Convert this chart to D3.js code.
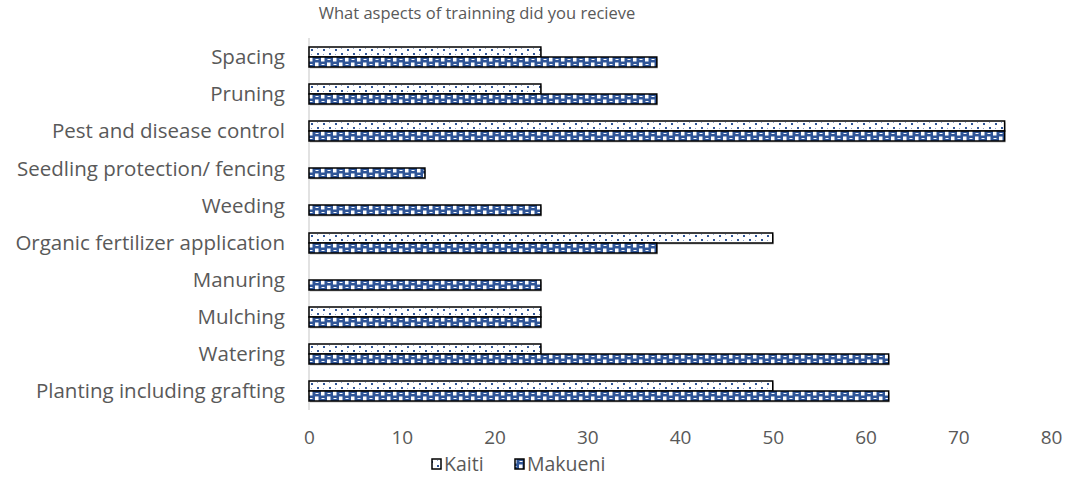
<!DOCTYPE html>
<html><head><meta charset="utf-8">
<script src="https://cdn.jsdelivr.net/npm/d3@7"></script>
<style>body{margin:0;background:#fff}svg{display:block}text{font-family:"Open Sans",sans-serif;fill:#595959}</style>
</head><body><svg id="c" width="1074" height="477"></svg>
<script>
const categories = ["Spacing","Pruning","Pest and disease control","Seedling protection/ fencing","Weeding","Organic fertilizer application","Manuring","Mulching","Watering","Planting including grafting"];
const kaiti   = [25, 25, 75, 0, 0, 50, 0, 25, 25, 50];
const makueni = [37.5, 37.5, 75, 12.5, 25, 37.5, 25, 25, 62.5, 62.5];
const seriesNames = ["Kaiti","Makueni"];
const xTicks = [0,10,20,30,40,50,60,70,80];

const svg = d3.select("#c");
const x = d3.scaleLinear().domain([0,80]).range([309,1051]);
const y = d3.scaleBand().domain(categories).range([38.4,409.6]);
const blue="#2F5597";
const defs = svg.append("defs");
function makePattern(id, s, oy){
  const p = defs.append("pattern").attr("id",id).attr("patternUnits","userSpaceOnUse")
    .attr("x",309).attr("y",oy).attr("width",12).attr("height",10);
  if(s===0){
    p.append("rect").attr("width",12).attr("height",10).attr("fill","#fff");
    p.append("rect").attr("x",2).attr("y",2).attr("width",2).attr("height",2).attr("fill",blue);
    p.append("rect").attr("x",8).attr("y",6).attr("width",2).attr("height",2).attr("fill",blue);
    p.append("rect").attr("x",8).attr("y",1).attr("width",1).attr("height",1).attr("fill","#8ea3c9");
    p.append("rect").attr("x",2).attr("y",7).attr("width",1).attr("height",1).attr("fill","#8ea3c9");
  } else {
    p.append("rect").attr("width",12).attr("height",10).attr("fill",blue);
    p.append("rect").attr("x",0).attr("y",0).attr("width",3.5).attr("height",4.5).attr("fill","#fff");
    p.append("rect").attr("x",6).attr("y",5.5).attr("width",3.5).attr("height",4.5).attr("fill","#fff");
    p.append("rect").attr("x",6.5).attr("y",2).attr("width",3).attr("height",1).attr("fill","#fff");
    p.append("rect").attr("x",0.5).attr("y",7).attr("width",3).attr("height",1).attr("fill","#fff");
  }
}

// title
svg.append("text").attr("x",477).attr("y",19).attr("text-anchor","middle").style("font-size","16.5px").text("What aspects of trainning did you recieve");

// axis line
svg.append("line").attr("x1",x(0)).attr("x2",x(0)).attr("y1",38).attr("y2",410).attr("stroke","#d9d9d9").attr("stroke-width",1.5);

const bh=10;
const data=[];
categories.forEach((c,i)=>{
  data.push({c,v:kaiti[i],s:0,i});
  data.push({c,v:makueni[i],s:1,i});
});
const yc = c=>y(c)+y.bandwidth()/2;
const by = d=>Math.round(yc(d.c))+(d.s===0?-bh:0);
const shown = data.filter(d=>d.v>0);
shown.forEach(d=>makePattern(`p${d.s}_${d.i}`, d.s, by(d)));
const bars = svg.append("g");
bars.selectAll("rect.sh").data(shown).join("rect").attr("class","sh")
  .attr("x",x(0)+1).attr("y",d=>by(d)+1.5)
  .attr("width",d=>x(d.v)-x(0)).attr("height",bh).attr("fill","#bfbfbf");
bars.selectAll("rect.b").data(shown).join("rect").attr("class","b")
  .attr("x",x(0)).attr("y",by)
  .attr("width",d=>x(d.v)-x(0)).attr("height",bh)
  .attr("fill",d=>`url(#p${d.s}_${d.i})`)
  .attr("stroke","#000").attr("stroke-width",1.5);

// category labels
const ya = d3.axisLeft(y).tickSize(0).tickPadding(0);
const gy = svg.append("g").attr("transform",`translate(285,0)`).call(ya);
gy.select(".domain").remove();
gy.selectAll("text").style("font-size","20.5px").attr("fill","#595959").attr("dy","0.35em");

// x axis labels
const xa = d3.axisBottom(x).tickValues(xTicks).tickSize(0).tickPadding(0);
const gx = svg.append("g").attr("transform",`translate(0,437)`).call(xa);
gx.select(".domain").remove();
gx.selectAll("text").style("font-size","19px").attr("fill","#595959").attr("dy","0.35em");

// legend
const leg = svg.append("g");
const lx=[432,515];
seriesNames.forEach((n,i)=>{
  makePattern(`lg${i}`, i, 459);
  leg.append("rect").attr("x",lx[i]).attr("y",459).attr("width",9).attr("height",10)
    .attr("fill",`url(#lg${i})`).attr("stroke","#000").attr("stroke-width",1.5);
  leg.append("text").attr("x",lx[i]+12).attr("y",464.5).attr("dy","0.35em").style("font-size","19.5px").text(n);
});
</script></body></html>
